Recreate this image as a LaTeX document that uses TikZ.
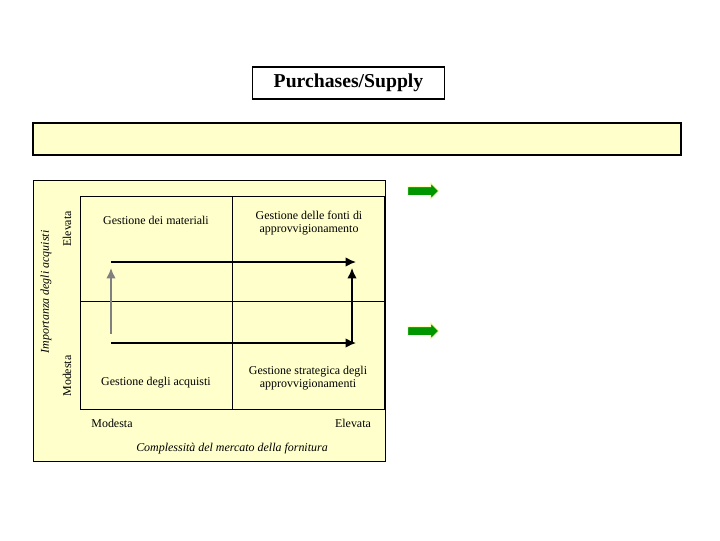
\documentclass[tikz,border=0pt]{standalone}
\usepackage{fontspec}
\setmainfont{Liberation Serif}
\usetikzlibrary{shapes.arrows, arrows.meta}
\definecolor{paleyellow}{RGB}{255,255,204}
\definecolor{arrowgreen}{RGB}{0,150,0}
\begin{document}
\begin{tikzpicture}[>={Latex[length=2.6mm, width=2.4mm]}, x=0.025cm, y=-0.025cm,
	txt/.style={font=\fontsize{8.5}{9.5}\selectfont, align=center, inner sep=0pt},
	flow/.style={->, line width=1.2pt},
	greenarrow/.style={single arrow, fill=arrowgreen, draw=yellow!25, line width=0.6pt, minimum height=7.8mm, inner xsep=0pt, inner ysep=1mm, single arrow head extend=0.9mm}]
	\useasboundingbox (0,0) rectangle (720,540);
	% title and banner
	\node[draw, line width=0.8pt, minimum width=4.78cm, minimum height=0.8cm, font=\fontsize{14}{16}\bfseries] (title) at (348.5,83) {Purchases/Supply};
	\draw[fill=paleyellow, line width=0.8pt] (33,123) rectangle (681,155);
	% matrix panel
	\draw[fill=paleyellow, line width=0.6pt] (33,180) rectangle (385,461);
	\draw[line width=0.5pt] (80,196) rectangle (384,409);
	\draw[line width=0.5pt] (232,196) -- (232,409);
	\draw[line width=0.5pt] (80,301) -- (384,301);
	\node[txt] (qa) at (156,220) {Gestione dei materiali};
	\node[txt] (qb) at (309,223) {Gestione delle fonti di\\approvvigionamento};
	\node[txt] (qc) at (156,383) {Gestione degli acquisti};
	\node[txt] (qd) at (308,378) {Gestione strategica degli\\approvvigionamenti};
	% arrows
	\coordinate (tl) at (111,262);
	\coordinate (tr) at (356,262);
	\coordinate (bl) at (111,343);
	\coordinate (br) at (356,343);
	\coordinate (lt) at (111,268);
	\coordinate (lb) at (111,334);
	\coordinate (rb) at (352,343);
	\coordinate (rt) at (352,268);
	\draw[flow] (tl) -- (tr);
	\draw[flow] (bl) -- (br);
	\draw[flow, gray] (lb) -- (lt);
	\draw[flow] (rb) -- (rt);
	% axis labels
	\node[txt] (xlo) at (112,423) {Modesta};
	\node[txt] (xhi) at (353,423) {Elevata};
	\node[txt, font=\fontsize{8.5}{9.5}\selectfont\itshape] (xlab) at (232,449) {Complessità del mercato della fornitura};
	\node[txt, rotate=90] (yhi) at (67,229) {Elevata};
	\node[txt, rotate=90] (ylo) at (67,376) {Modesta};
	\node[txt, rotate=90, font=\fontsize{8.5}{9.5}\selectfont\itshape] (ylab) at (46,292) {Importanza degli acquisti};
	% green markers
	\node[greenarrow] (g1) at (421,191) {};
	\node[greenarrow] (g2) at (421,331) {};
\end{tikzpicture}
\end{document}
